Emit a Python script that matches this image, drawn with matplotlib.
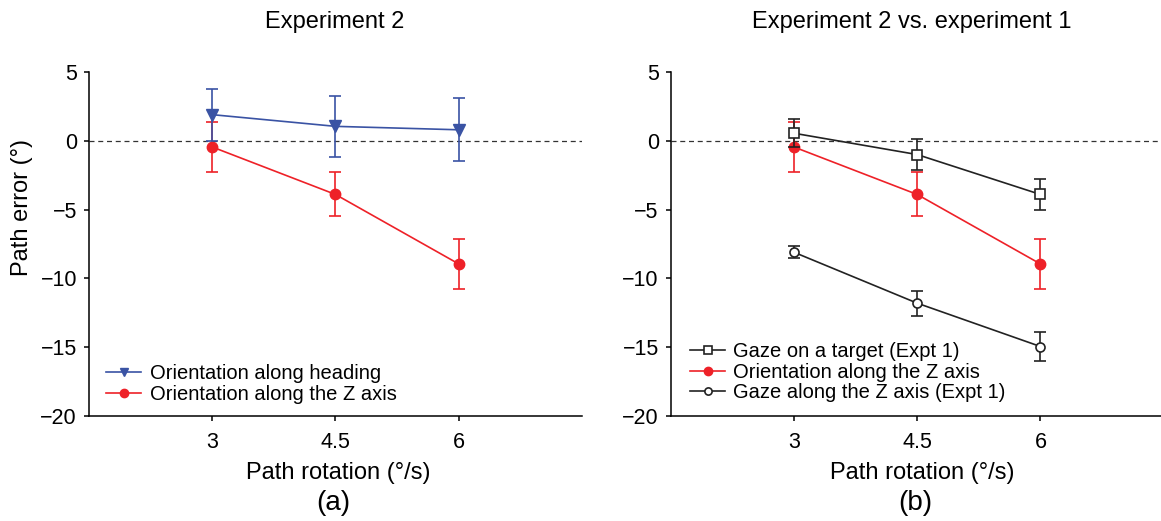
import matplotlib
matplotlib.use("Agg")
import matplotlib.pyplot as plt

plt.rcParams['font.family'] = ['Liberation Sans', 'DejaVu Sans']

# data
rotation = [3, 4.5, 6]
heading_mean = [1.9, 1.05, 0.8]
heading_err = [1.9, 2.2, 2.3]
zaxis_mean = [-0.45, -3.9, -8.95]
zaxis_err = [1.85, 1.6, 1.8]
target_mean = [0.55, -1.0, -3.9]
target_err = [1.0, 1.1, 1.1]
gaze_z_mean = [-8.1, -11.8, -14.95]
gaze_z_err = [0.45, 0.9, 1.05]

x_ticks = [3, 4.5, 6]
x_tick_labels = ['3', '4.5', '6']
y_ticks = [-20, -15, -10, -5, 0, 5]

BLUE = '#3a53a4'
RED = '#ee2128'

W, H = 1161, 521
fig = plt.figure(figsize=(W / 100, H / 100), dpi=100)


def px_axes(left, top, right, bottom):
    return fig.add_axes([left / W, 1 - bottom / H, (right - left) / W, (bottom - top) / H])


def style_axes(ax):
    ax.set_xlim(1.5, 7.5)
    ax.set_ylim(-20, 5)
    ax.set_xticks(x_ticks)
    ax.set_xticklabels(x_tick_labels)
    ax.set_yticks(y_ticks)
    ax.spines['top'].set_visible(False)
    ax.spines['right'].set_visible(False)
    for s in ('left', 'bottom'):
        ax.spines[s].set_linewidth(1.1)
    ax.tick_params(direction='out', length=3.6, width=1.1, labelsize=15.5)
    ax.tick_params(axis='x', pad=8)
    ax.tick_params(axis='y', pad=5)
    ax.axhline(0, color='#333333', lw=0.9, ls=(0, (4, 3)), zorder=1)


def add_legend(ax, handles, labels, anchor):
    ax.legend(handles, labels, loc='lower left', bbox_to_anchor=anchor,
              frameon=False, fontsize=14.5, borderpad=0, borderaxespad=0,
              handlelength=1.75, handletextpad=0.4, labelspacing=0.08,
              markerscale=0.8)


ebar = dict(elinewidth=1.2, capsize=4.5, capthick=1.2, lw=1.2)

# (a)
ax1 = px_axes(89, 72, 582, 416)
style_axes(ax1)
red_a = ax1.errorbar(rotation, zaxis_mean, yerr=zaxis_err, color=RED, marker='o', ms=7.5,
                     zorder=3, **ebar)
blue_a = ax1.errorbar(rotation, heading_mean, yerr=heading_err, color=BLUE, marker='v', ms=8,
                      zorder=4, **ebar)
add_legend(ax1, [blue_a[0], red_a[0]],
           ['Orientation along heading', 'Orientation along the Z axis'], (0.035, 0.035))

# (b)
ax2 = px_axes(670.7, 72, 1163.7, 416)
style_axes(ax2)
red_b = ax2.errorbar(rotation, zaxis_mean, yerr=zaxis_err, color=RED, marker='o', ms=7.5,
                     zorder=3, **ebar)
sq_b = ax2.errorbar(rotation, target_mean, yerr=target_err, color='#222222', marker='s', ms=7,
                    mfc='white', mew=1.2, zorder=4, **ebar)
circ_b = ax2.errorbar(rotation, gaze_z_mean, yerr=gaze_z_err, color='#222222', marker='o', ms=6.5,
                      mfc='white', mew=1.2, zorder=4, **ebar)
add_legend(ax2, [sq_b[0], red_b[0], circ_b[0]],
           ['Gaze on a target (Expt 1)', 'Orientation along the Z axis',
            'Gaze along the Z axis (Expt 1)'], (0.039, 0.04))

# text
fig.text(22 / W, 1 - 208 / H, 'Path error (°)', rotation=90, ha='center', va='center', fontsize=17)
fig.text(335 / W, 1 - 22 / H, 'Experiment 2', ha='center', va='center', fontsize=17)
fig.text(912 / W, 1 - 22 / H, 'Experiment 2 vs. experiment 1', ha='center', va='center', fontsize=17)
fig.text(338 / W, 1 - 473 / H, 'Path rotation (°/s)', ha='center', va='center', fontsize=17)
fig.text(922 / W, 1 - 473 / H, 'Path rotation (°/s)', ha='center', va='center', fontsize=17)
fig.text(333 / W, 1 - 503 / H, '(a)', ha='center', va='center', fontsize=20)
fig.text(915 / W, 1 - 503 / H, '(b)', ha='center', va='center', fontsize=20)

fig.savefig('out.png', dpi=100)
